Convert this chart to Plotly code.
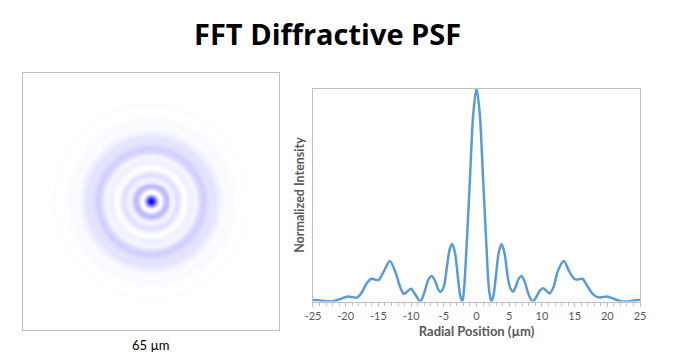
import numpy as np
import plotly.graph_objects as go

# Radial profile (µm, normalized intensity)
radial_position = [
    -25.0, -24.3, -23.5, -22.1, -21.0, -19.8, -19.0, -18.3, -17.6, -16.8, -16.05,
    -15.5, -15.0, -14.2, -13.25, -12.3, -11.7, -11.1, -10.5, -10.0, -9.4, -8.6,
    -8.0, -7.4, -6.86, -6.3, -5.9, -5.5, -5.0, -4.5, -4.1, -3.7, -3.3, -2.9,
    -2.5, -2.15, -1.9, -1.5, -1.0, -0.5, 0.0,
    0.5, 1.0, 1.5, 1.9, 2.25, 2.6, 3.0, 3.4, 3.85, 4.3, 4.8, 5.2, 5.6, 6.0,
    6.5, 6.9, 7.4, 8.0, 8.6, 9.2, 9.7, 10.2, 10.7, 11.2, 11.8, 12.4, 13.35,
    14.2, 15.0, 15.6, 16.2, 17.0, 17.8, 18.6, 19.3, 20.1, 21.0, 22.0, 22.7,
    23.5, 24.3, 25.0,
]
intensity = [
    0.007, 0.006, 0.003, 0.0, 0.010, 0.023, 0.021, 0.018, 0.040, 0.085, 0.107,
    0.103, 0.100, 0.140, 0.190, 0.130, 0.070, 0.036, 0.050, 0.060, 0.035, 0.0,
    0.040, 0.100, 0.120, 0.095, 0.060, 0.046, 0.070, 0.170, 0.245, 0.270, 0.230,
    0.130, 0.030, 0.0, 0.060, 0.270, 0.580, 0.880, 1.0,
    0.880, 0.580, 0.270, 0.060, 0.0, 0.030, 0.130, 0.230, 0.270, 0.225, 0.110,
    0.060, 0.046, 0.070, 0.110, 0.120, 0.090, 0.030, 0.0, 0.025, 0.052, 0.062,
    0.050, 0.038, 0.070, 0.140, 0.190, 0.140, 0.105, 0.104, 0.107, 0.070, 0.035,
    0.020, 0.021, 0.023, 0.013, 0.002, 0.0, 0.002, 0.006, 0.007,
]
x_ticks = [-25, -20, -15, -10, -5, 0, 5, 10, 15, 20, 25]
image_width_um = 65

# 2D PSF image built from the radial profile
half = image_width_um / 2
grid = np.linspace(-half, half, 261)
gx, gy = np.meshgrid(grid, grid)
r = np.sqrt(gx ** 2 + gy ** 2)
xs = np.array(radial_position)
ys = np.array(intensity)
pos = xs >= 0
z = np.interp(r, xs[pos], ys[pos], right=0.0)

fig = go.Figure()
fig.add_trace(go.Heatmap(
    x=grid, y=grid, z=z, zmin=0, zmax=1,
    colorscale=[[0, "#ffffff"], [1, "#0000ff"]],
    showscale=False, hoverinfo="skip", xaxis="x", yaxis="y",
))
fig.add_trace(go.Scatter(
    x=radial_position, y=intensity, mode="lines",
    line=dict(color="#5B9BD5", width=2.5, shape="spline", smoothing=0.8),
    xaxis="x2", yaxis="y2", showlegend=False, hoverinfo="skip",
))

grey = "#bfbfbf"
tick_font = dict(family="Lato, Liberation Sans, sans-serif", size=11, color="#595959")
fig.update_layout(
    width=692, height=362,
    margin=dict(l=0, r=0, t=0, b=0, autoexpand=False),
    paper_bgcolor="white", plot_bgcolor="white",
    showlegend=False,
    xaxis=dict(domain=[0.0328, 0.4036], range=[-half, half], showticklabels=False,
               showgrid=False, zeroline=False, ticks="", showline=True, automargin=False,
               linecolor=grey, linewidth=1, mirror=True),
    yaxis=dict(domain=[0.0884, 0.7975], range=[-half, half], showticklabels=False,
               showgrid=False, zeroline=False, ticks="", showline=True, automargin=False,
               linecolor=grey, linewidth=1, mirror=True),
    xaxis2=dict(domain=[0.4523, 0.9249], range=[-25, 25], anchor="y2", automargin=False,
                tickvals=x_ticks, ticktext=[str(t) for t in x_ticks],
                tickfont=tick_font, ticks="outside", ticklen=4, tickcolor=grey,
                minor=dict(dtick=1, ticks="outside", ticklen=3, tickcolor=grey),
                showgrid=False, zeroline=False, showline=True, linecolor=grey,
                linewidth=1, mirror=True,
                title=dict(text="<b>Radial Position (µm)</b>", standoff=6,
                           font=dict(family="Lato, Liberation Sans, sans-serif",
                                     size=13, color="#595959"))),
    yaxis2=dict(domain=[0.167, 0.7555], range=[0, 1.0], anchor="x2", automargin=False,
                showticklabels=False, ticks="", showgrid=False, zeroline=False,
                showline=True, linecolor=grey, linewidth=1, mirror=True,
                title=dict(text="<b>Normalized Intensity</b>", standoff=4,
                           font=dict(family="Lato, Liberation Sans, sans-serif",
                                     size=12.5, color="#595959"))),
    annotations=[
        dict(text="<b>FFT Diffractive PSF</b>", x=0.4728, y=1 - 33 / 362,
             xref="paper", yref="paper", showarrow=False, xanchor="center",
             yanchor="middle",
             font=dict(family="Open Sans, Noto Sans, sans-serif", size=29, color="black")),
        dict(text=f"{image_width_um} µm", x=151 / 692, y=1 - 345 / 362,
             xref="paper", yref="paper", showarrow=False, xanchor="center",
             yanchor="middle",
             font=dict(family="Lato, Liberation Sans, sans-serif", size=13, color="black")),
    ],
)

fig.write_html(
    "out.html",
    config={"displayModeBar": False},
    post_script="document.body.style.margin='0';document.body.style.overflow='hidden';",
)
